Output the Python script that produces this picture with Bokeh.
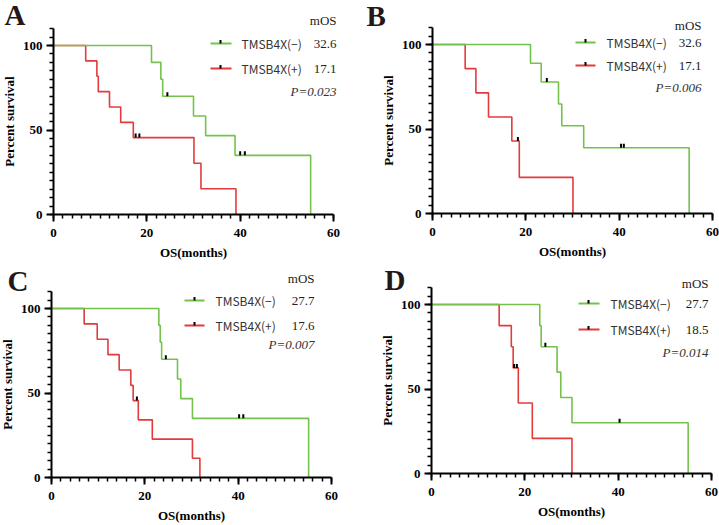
from bokeh.plotting import figure
from bokeh.models import Label, FixedTicker, Range1d
from bokeh.layouts import column, row
from bokeh.embed import file_html
from bokeh.resources import INLINE

# ---------------- data ----------------
GROUPS = ["TMSB4X(\u2212)", "TMSB4X(+)"]
X_TICKS = [0, 20, 40, 60]
Y_TICKS = [0, 50, 100]
X_LABEL = "OS(months)"
Y_LABEL = "Percent survival"

# Panel A
A_neg_t = [0, 21.0, 23.0, 23.4, 30.0, 32.6, 38.9, 55.1]
A_neg_s = [100, 90.0, 80.0, 70.0, 58.3, 46.7, 35.0, 0]
A_neg_ct = [24.4, 40.0, 41.0]
A_neg_cs = [70.0, 35.0, 35.0]
A_pos_t = [0, 6.9, 9.3, 9.6, 12.0, 14.4, 17.1, 30.1, 31.6, 39.1]
A_pos_s = [100, 90.9, 81.8, 72.7, 63.6, 54.5, 45.5, 30.3, 15.2, 0]
A_pos_ct = [17.6, 18.4]
A_pos_cs = [45.5, 45.5]
A_mos = ["32.6", "17.1"]
A_p = "P=0.023"

# Panel B
B_neg_t = [0, 21.0, 23.3, 27.0, 27.7, 32.4, 55.0]
B_neg_s = [100, 88.9, 77.8, 64.8, 51.9, 38.9, 0]
B_neg_ct = [24.5, 40.4, 41.0]
B_neg_cs = [77.8, 38.9, 38.9]
B_pos_t = [0, 7.0, 9.3, 12.0, 17.0, 18.6, 30.1]
B_pos_s = [100, 85.7, 71.4, 57.1, 42.9, 21.4, 0]
B_pos_ct = [18.3]
B_pos_cs = [42.9]
B_mos = ["32.6", "17.1"]
B_p = "P=0.006"

# Panel C
C_neg_t = [0, 23.0, 23.3, 23.6, 27.0, 27.7, 30.2, 55.1]
C_neg_s = [100, 90.0, 80.0, 70.0, 58.3, 46.7, 35.0, 0]
C_neg_ct = [24.5, 40.2, 41.1]
C_neg_cs = [70.0, 35.0, 35.0]
C_pos_t = [0, 7.0, 9.8, 12.1, 14.5, 17.0, 17.5, 18.6, 21.6, 30.2, 31.8]
C_pos_s = [100, 90.9, 81.8, 72.7, 63.6, 54.5, 45.5, 34.1, 22.7, 11.4, 0]
C_pos_ct = [18.3]
C_pos_cs = [45.5]
C_mos = ["27.7", "17.6"]
C_p = "P=0.007"

# Panel D
D_neg_t = [0, 23.2, 23.5, 26.9, 27.7, 30.1, 55.0]
D_neg_s = [100, 87.5, 75.0, 60.0, 45.0, 30.0, 0]
D_neg_ct = [24.4, 40.3]
D_neg_cs = [75.0, 30.0]
D_pos_t = [0, 14.5, 17.1, 17.5, 18.6, 21.6, 30.1]
D_pos_s = [100, 87.5, 75.0, 62.5, 41.7, 20.8, 0]
D_pos_ct = [17.7, 18.3]
D_pos_cs = [62.5, 62.5]
D_mos = ["27.7", "18.5"]
D_p = "P=0.014"

# ---------------- style ----------------
SERIF = "Liberation Serif"
LEGEND_FONT = "Noto Sans CJK SC"
GREEN = "#74C24C"
RED = "#E23B3B"
INK = "#231815"

X_END, Y_END = 60, 110
KX = 280 / 60.0     # px per month
KY = 169 / 100.0    # px per percent


def dxu(px):
    return px / KX


def dyu(px):
    return px / KY


def make_panel(letter, neg, pos, mos, pval, geo, size, origin):
    w, h = size
    ox, oy = origin  # axis origin inside the figure (px from left, px from top)
    p = figure(width=w, height=h,
               x_range=Range1d(-ox / KX, (w - ox) / KX),
               y_range=Range1d(-(h - oy) / KY, oy / KY),
               output_backend="svg", toolbar_location=None, title=None,
               min_border_left=0, min_border_right=0, min_border_top=0, min_border_bottom=0)
    p.outline_line_color = None
    p.xgrid.visible = False
    p.ygrid.visible = False
    p.background_fill_color = "white"
    p.border_fill_color = "white"

    p.xaxis.ticker = FixedTicker(ticks=X_TICKS, minor_ticks=list(range(0, X_END + 1, 2)))
    p.yaxis.ticker = FixedTicker(ticks=Y_TICKS, minor_ticks=list(range(0, Y_END + 1, 5)))
    p.xaxis.bounds = (0, X_END)
    p.yaxis.bounds = (0, Y_END)
    p.xaxis.fixed_location = 0
    p.yaxis.fixed_location = 0
    for ax in (p.xaxis[0], p.yaxis[0]):
        ax.axis_line_width = 2
        ax.axis_line_color = "black"
        ax.major_tick_line_width = 2
        ax.major_tick_line_color = "black"
        ax.minor_tick_line_width = 1.5
        ax.minor_tick_line_color = "black"
        ax.major_tick_out = 7
        ax.major_tick_in = 0
        ax.minor_tick_out = 4
        ax.minor_tick_in = 0
        ax.major_label_text_font = SERIF
        ax.major_label_text_font_style = "bold"
        ax.major_label_text_font_size = "13px"
        ax.major_label_text_color = "black"
        ax.axis_label_text_font = SERIF
        ax.axis_label_text_font_style = "bold"
        ax.axis_label_text_font_size = "13px"
        ax.axis_label_text_color = "black"
    p.xaxis.axis_label = X_LABEL
    p.yaxis.axis_label = Y_LABEL
    p.xaxis.major_label_standoff = 7
    p.xaxis.axis_label_standoff = 5
    p.yaxis.major_label_standoff = 4
    p.yaxis.axis_label_standoff = 3

    # curves (red first, green on top)
    for (t, s, ct, cs), col in ((pos, RED), (neg, GREEN)):
        p.step(t, s, mode="after", line_color=col, line_width=1.6)
    for (t, s, ct, cs), col in ((pos, RED), (neg, GREEN)):
        p.segment(x0=ct, y0=cs, x1=ct, y1=[v + dyu(4) for v in cs], line_color="black", line_width=2)

    # legend
    rows_y = [geo["row1"], geo["row2"]]
    for name, val, ry, col in zip(GROUPS, mos, rows_y, (GREEN, RED)):
        p.segment(x0=[dxu(geo["l0"])], y0=[dyu(ry)], x1=[dxu(geo["l1"])], y1=[dyu(ry)],
                  line_color=col, line_width=2)
        p.segment(x0=[dxu(geo["tick"])], y0=[dyu(ry)], x1=[dxu(geo["tick"])], y1=[dyu(ry + 3.5)],
                  line_color="black", line_width=2)
        p.add_layout(Label(x=dxu(geo["name"]), y=dyu(ry), text=name, text_align="left",
                           text_baseline="middle", text_font=LEGEND_FONT, text_font_size="12px",
                           text_color="#333333"))
        p.add_layout(Label(x=dxu(geo["num"]), y=dyu(ry), text=val, text_align="right",
                           text_baseline="middle", text_font=SERIF, text_font_size="13px",
                           text_color="#222222"))
    p.add_layout(Label(x=dxu(geo["num"]), y=dyu(geo["mos"]), text="mOS", text_align="right",
                       text_baseline="middle", text_font=SERIF, text_font_size="13px",
                       text_color="#222222"))
    p.add_layout(Label(x=dxu(geo["num"]), y=dyu(geo["p"]), text=pval, text_align="right",
                       text_baseline="middle", text_font=SERIF, text_font_style="italic",
                       text_font_size="13px", text_color="#333333"))
    p.add_layout(Label(x=dxu(geo["lx"]), y=dyu(geo["ly"]), text=letter, text_align="left",
                       text_baseline="middle", text_font=SERIF, text_font_style="bold",
                       text_font_size="29px", text_color=INK))
    return p


# legend/letter positions: px right of the y axis, px above the x axis
GEO_A = dict(mos=194, row1=171, row2=146, p=123, l0=157, l1=178, tick=167, name=188, num=283, lx=-49, ly=200)
GEO_B = dict(mos=188, row1=171, row2=148, p=126, l0=143, l1=163, tick=153, name=174, num=269, lx=-66, ly=198)
GEO_C = dict(mos=199, row1=177, row2=152, p=133, l0=133, l1=153, tick=143, name=164, num=263, lx=-44, ly=197)
GEO_D = dict(mos=190, row1=170, row2=144, p=121, l0=147, l1=168, tick=157, name=179, num=277, lx=-47, ly=194)

pA = make_panel("A", (A_neg_t, A_neg_s, A_neg_ct, A_neg_cs), (A_pos_t, A_pos_s, A_pos_ct, A_pos_cs),
                A_mos, A_p, GEO_A, (355, 262), (53, 214))
pB = make_panel("B", (B_neg_t, B_neg_s, B_neg_ct, B_neg_cs), (B_pos_t, B_pos_s, B_pos_ct, B_pos_cs),
                B_mos, B_p, GEO_B, (364, 262), (77, 213))
pC = make_panel("C", (C_neg_t, C_neg_s, C_neg_ct, C_neg_cs), (C_pos_t, C_pos_s, C_pos_ct, C_pos_cs),
                C_mos, C_p, GEO_C, (355, 262), (51, 215))
pD = make_panel("D", (D_neg_t, D_neg_s, D_neg_ct, D_neg_cs), (D_pos_t, D_pos_s, D_pos_ct, D_pos_cs),
                D_mos, D_p, GEO_D, (364, 262), (76, 211))

layout = column(row(pA, pB), row(pC, pD))
open("out.html", "w").write(file_html(layout, INLINE))
